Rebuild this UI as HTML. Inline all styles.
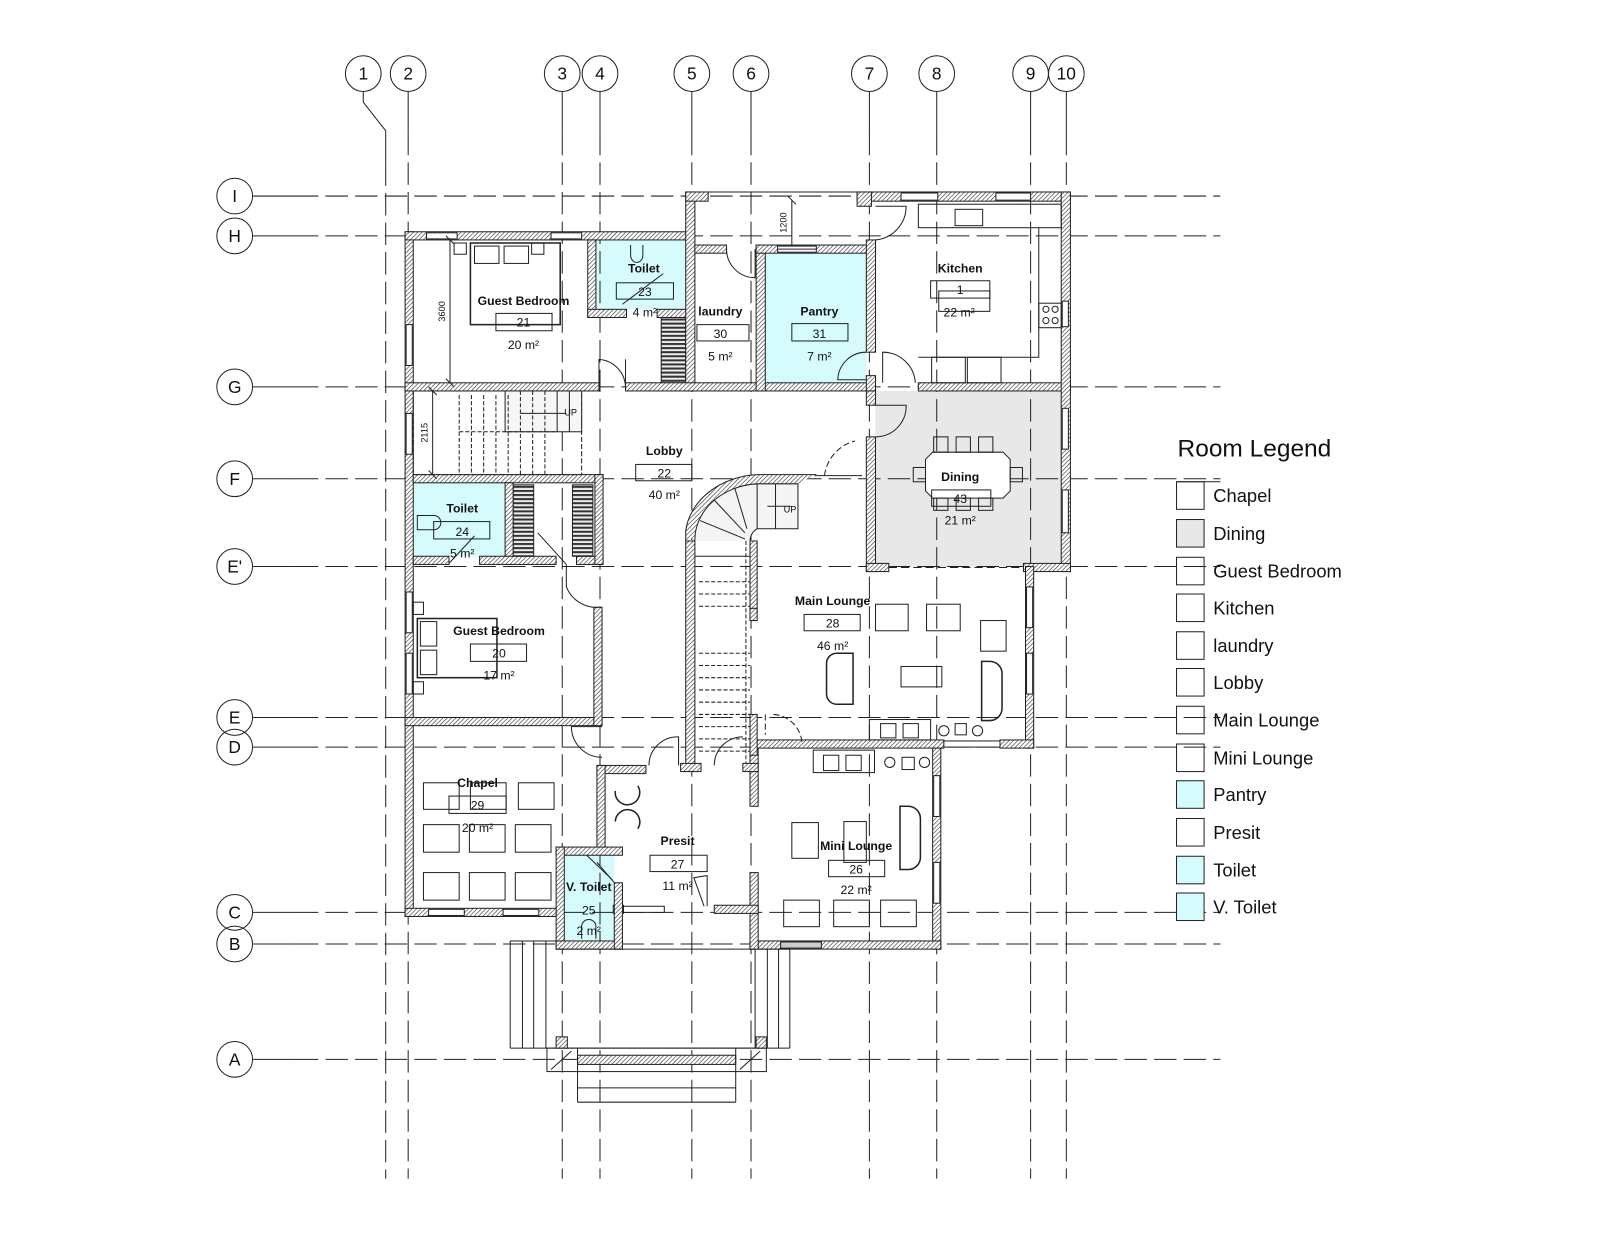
<!DOCTYPE html>
<html><head><meta charset="utf-8"><style>
html,body{margin:0;padding:0;background:#fff}
svg{display:block}
text{font-family:"Liberation Sans",sans-serif;fill:#111}
.g{stroke:#222;stroke-width:1;fill:none;stroke-dasharray:22 7}
.w{fill:url(#h);stroke:#222;stroke-width:1}
.l{stroke:#222;stroke-width:1;fill:none}
.f{stroke:#222;stroke-width:1;fill:#fff}
.lb{font-weight:bold;font-size:12px;text-anchor:middle}
.ar{font-size:12px;text-anchor:middle}
.bx{fill:none;stroke:#222;stroke-width:1}
.sh{fill:#333}
</style></head><body>
<svg width="1600" height="1236" viewBox="0 0 1568 1211" xmlns="http://www.w3.org/2000/svg">
<defs>
<pattern id="h" width="3" height="3" patternUnits="userSpaceOnUse" patternTransform="rotate(45)">
<rect width="3" height="3" fill="#fff"/><line x1="0" y1="0" x2="0" y2="3" stroke="#333" stroke-width="1.2"/>
</pattern>
<pattern id="st" width="4" height="4" patternUnits="userSpaceOnUse">
<rect width="4" height="4" fill="#eee"/><rect width="4" height="2" fill="#333"/>
</pattern>
</defs>

<!-- room fills -->
<rect x="584" y="235" width="88" height="68" fill="#d6fbfd"/>
<rect x="750" y="248" width="99" height="127" fill="#d6fbfd"/>
<rect x="405" y="473" width="90" height="72" fill="#d6fbfd"/>
<rect x="553" y="838" width="49" height="84" fill="#d6fbfd"/>
<rect x="858" y="383" width="182" height="172" fill="#e8e8e8"/>

<!-- grid verticals -->
<g>
<circle class="l" cx="356" cy="72" r="17.5"/><text x="356" y="78" font-size="17" text-anchor="middle">1</text>
<polyline class="l" points="356,90 356,100 378,128 378,160"/><line class="g" x1="378" y1="160" x2="378" y2="1155"/>
<circle class="l" cx="400" cy="72" r="17.5"/><text x="400" y="78" font-size="17" text-anchor="middle">2</text>
<circle class="l" cx="551" cy="72" r="17.5"/><text x="551" y="78" font-size="17" text-anchor="middle">3</text>
<circle class="l" cx="588" cy="72" r="17.5"/><text x="588" y="78" font-size="17" text-anchor="middle">4</text>
<circle class="l" cx="678" cy="72" r="17.5"/><text x="678" y="78" font-size="17" text-anchor="middle">5</text>
<circle class="l" cx="736" cy="72" r="17.5"/><text x="736" y="78" font-size="17" text-anchor="middle">6</text>
<circle class="l" cx="852" cy="72" r="17.5"/><text x="852" y="78" font-size="17" text-anchor="middle">7</text>
<circle class="l" cx="918" cy="72" r="17.5"/><text x="918" y="78" font-size="17" text-anchor="middle">8</text>
<circle class="l" cx="1010" cy="72" r="17.5"/><text x="1010" y="78" font-size="17" text-anchor="middle">9</text>
<circle class="l" cx="1045" cy="72" r="17.5"/><text x="1045" y="78" font-size="17" text-anchor="middle">10</text>
<line class="l" x1="400" y1="90" x2="400" y2="130"/><line class="g" x1="400" y1="130" x2="400" y2="1155"/>
<line class="l" x1="551" y1="90" x2="551" y2="130"/><line class="g" x1="551" y1="130" x2="551" y2="1155"/>
<line class="l" x1="588" y1="90" x2="588" y2="130"/><line class="g" x1="588" y1="130" x2="588" y2="1155"/>
<line class="l" x1="678" y1="90" x2="678" y2="130"/><line class="g" x1="678" y1="130" x2="678" y2="1155"/>
<line class="l" x1="736" y1="90" x2="736" y2="130"/><line class="g" x1="736" y1="130" x2="736" y2="1155"/>
<line class="l" x1="852" y1="90" x2="852" y2="130"/><line class="g" x1="852" y1="130" x2="852" y2="1155"/>
<line class="l" x1="918" y1="90" x2="918" y2="130"/><line class="g" x1="918" y1="130" x2="918" y2="1155"/>
<line class="l" x1="1010" y1="90" x2="1010" y2="130"/><line class="g" x1="1010" y1="130" x2="1010" y2="1155"/>
<line class="l" x1="1045" y1="90" x2="1045" y2="130"/><line class="g" x1="1045" y1="130" x2="1045" y2="1155"/>
</g>
<!-- grid horizontals -->
<g font-size="17">
<circle class="l" cx="230" cy="192" r="17.5"/><text x="230" y="198" text-anchor="middle">I</text><line class="l" x1="248" y1="192" x2="290" y2="192"/><line class="g" x1="290" y1="192" x2="1196" y2="192"/>
<circle class="l" cx="230" cy="231" r="17.5"/><text x="230" y="237" text-anchor="middle">H</text><line class="l" x1="248" y1="231" x2="290" y2="231"/><line class="g" x1="290" y1="231" x2="1196" y2="231"/>
<circle class="l" cx="230" cy="379" r="17.5"/><text x="230" y="385" text-anchor="middle">G</text><line class="l" x1="248" y1="379" x2="290" y2="379"/><line class="g" x1="290" y1="379" x2="1196" y2="379"/>
<circle class="l" cx="230" cy="469" r="17.5"/><text x="230" y="475" text-anchor="middle">F</text><line class="l" x1="248" y1="469" x2="290" y2="469"/><line class="g" x1="290" y1="469" x2="1196" y2="469"/>
<circle class="l" cx="230" cy="555" r="17.5"/><text x="230" y="561" text-anchor="middle">E'</text><line class="l" x1="248" y1="555" x2="290" y2="555"/><line class="g" x1="290" y1="555" x2="1196" y2="555"/>
<circle class="l" cx="230" cy="703" r="17.5"/><text x="230" y="709" text-anchor="middle">E</text><line class="l" x1="248" y1="703" x2="290" y2="703"/><line class="g" x1="290" y1="703" x2="1196" y2="703"/>
<circle class="l" cx="230" cy="732" r="17.5"/><text x="230" y="738" text-anchor="middle">D</text><line class="l" x1="248" y1="732" x2="290" y2="732"/><line class="g" x1="290" y1="732" x2="1196" y2="732"/>
<circle class="l" cx="230" cy="894" r="17.5"/><text x="230" y="900" text-anchor="middle">C</text><line class="l" x1="248" y1="894" x2="290" y2="894"/><line class="g" x1="290" y1="894" x2="1196" y2="894"/>
<circle class="l" cx="230" cy="925" r="17.5"/><text x="230" y="931" text-anchor="middle">B</text><line class="l" x1="248" y1="925" x2="290" y2="925"/><line class="g" x1="290" y1="925" x2="1196" y2="925"/>
<circle class="l" cx="230" cy="1038" r="17.5"/><text x="230" y="1044" text-anchor="middle">A</text><line class="l" x1="248" y1="1038" x2="290" y2="1038"/><line class="g" x1="290" y1="1038" x2="1196" y2="1038"/>
</g>

<!-- WALLS -->
<g>
<!-- west block -->
<rect class="w" x="397" y="227" width="8" height="671"/>
<rect class="w" x="397" y="227" width="283" height="8"/>
<rect class="w" x="576" y="235" width="8" height="76"/>
<rect class="w" x="576" y="303" width="38" height="8"/>
<rect class="w" x="644" y="303" width="30" height="8"/>
<rect x="648" y="311" width="24" height="64" fill="url(#st)" stroke="#222"/>
<rect class="w" x="672" y="188" width="9" height="195"/>
<rect class="w" x="672" y="188" width="22" height="9"/>
<line class="l" x1="694" y1="188" x2="848" y2="188"/>
<rect class="w" x="397" y="375" width="190" height="8"/>
<rect class="w" x="613" y="375" width="245" height="8"/>
<rect class="w" x="900" y="375" width="149" height="8"/>
<rect class="w" x="681" y="240" width="31" height="8"/>
<rect class="w" x="741" y="240" width="9" height="143"/>
<rect class="w" x="741" y="240" width="117" height="8"/>
<rect x="762" y="241" width="38" height="6" fill="#fff" stroke="#222"/><line class="l" x1="762" y1="244" x2="800" y2="244"/>
<rect class="w" x="849" y="235" width="9" height="110"/>
<rect class="w" x="849" y="368" width="9" height="15"/>
<rect class="w" x="840" y="188" width="209" height="9"/>
<rect class="w" x="840" y="188" width="14" height="14"/>
<rect x="883" y="189" width="36" height="7" fill="#fff" stroke="#222"/><rect x="976" y="189" width="34" height="7" fill="#fff" stroke="#222"/>
<rect class="w" x="1040" y="188" width="9" height="372"/>
<rect x="1041" y="400" width="6" height="40" fill="#fff" stroke="#222"/><rect x="1041" y="480" width="6" height="42" fill="#fff" stroke="#222"/>
<rect x="1041" y="295" width="6" height="25" fill="#fff" stroke="#222"/>
<!-- dining -->
<rect class="w" x="849" y="383" width="9" height="14"/>
<rect class="w" x="849" y="428" width="9" height="132"/>
<rect class="w" x="849" y="552" width="22" height="8"/>
<rect class="w" x="1003" y="552" width="46" height="8"/>
<line class="l" x1="871" y1="556" x2="1003" y2="556" stroke-dasharray="8 4"/>
<!-- main lounge -->
<rect class="w" x="1005" y="555" width="8" height="178"/>
<rect x="1006" y="575" width="6" height="40" fill="#fff" stroke="#222"/><rect x="1006" y="640" width="6" height="40" fill="#fff" stroke="#222"/>
<rect class="w" x="735" y="725" width="190" height="8"/>
<rect x="925" y="726" width="55" height="6" fill="#fff" stroke="#222"/>
<rect class="w" x="980" y="725" width="33" height="8"/>
<!-- mini lounge -->
<rect class="w" x="914" y="733" width="8" height="197"/>
<rect x="915" y="760" width="6" height="40" fill="#fff" stroke="#222"/><rect x="915" y="845" width="6" height="40" fill="#fff" stroke="#222"/>
<rect class="w" x="735" y="922" width="187" height="8"/>
<rect x="765" y="923" width="40" height="6" fill="#ccc" stroke="#222"/>
<rect class="w" x="735" y="733" width="8" height="57"/>
<rect class="w" x="735" y="855" width="8" height="75"/>
<!-- straight stair walls -->
<rect class="w" x="672" y="530" width="9" height="225"/>
<rect class="w" x="667" y="748" width="20" height="8"/>
<rect class="w" x="735" y="530" width="7" height="70"/>
<rect class="w" x="735" y="700" width="7" height="40"/>
<rect class="w" x="728" y="748" width="15" height="8"/>
<!-- presit -->
<rect class="w" x="585" y="750" width="48" height="8"/>
<rect class="w" x="585" y="750" width="8" height="84"/>
<rect class="w" x="601" y="887" width="10" height="8"/>
<rect x="611" y="888" width="40" height="6" fill="#fff" stroke="#222"/>
<rect class="w" x="700" y="887" width="43" height="8"/>
<!-- V toilet -->
<rect class="w" x="545" y="830" width="65" height="8"/>
<rect class="w" x="545" y="830" width="8" height="100"/>
<rect class="w" x="545" y="922" width="65" height="8"/>
<rect class="w" x="602" y="865" width="8" height="65"/>
<!-- chapel -->
<rect class="w" x="397" y="703" width="193" height="8"/>
<rect class="w" x="397" y="890" width="148" height="8"/>
<rect x="420" y="891" width="35" height="6" fill="#fff" stroke="#222"/><rect x="493" y="891" width="35" height="6" fill="#fff" stroke="#222"/>
<rect class="w" x="582" y="595" width="8" height="116"/>
<!-- toilet 24 and wardrobes -->
<rect class="w" x="405" y="465" width="186" height="8"/>
<rect class="w" x="495" y="473" width="8" height="80"/>
<rect class="w" x="405" y="545" width="35" height="8"/>
<rect class="w" x="470" y="545" width="75" height="8"/>
<rect class="w" x="565" y="545" width="26" height="8"/>
<rect class="w" x="583" y="465" width="8" height="88"/>
<rect x="503" y="475" width="20" height="70" fill="url(#st)" stroke="#222"/>
<rect x="561" y="475" width="20" height="70" fill="url(#st)" stroke="#222"/>
<!-- windows on left wall -->
<rect x="398" y="318" width="6" height="40" fill="#fff" stroke="#222"/>
<rect x="398" y="405" width="6" height="40" fill="#fff" stroke="#222"/>
<rect x="398" y="580" width="6" height="40" fill="#fff" stroke="#222"/>
<rect x="398" y="640" width="6" height="40" fill="#fff" stroke="#222"/>
<rect x="418" y="228" width="30" height="6" fill="#fff" stroke="#222"/><rect x="540" y="228" width="30" height="6" fill="#fff" stroke="#222"/>
</g>

<!-- doors -->
<g class="l">
<path d="M587 380 L587 352 A28 28 0 0 1 613 380"/><line x1="613" y1="352" x2="613" y2="380"/>
<path d="M712 244 A28 28 0 0 0 740 272 L740 244"/>
<path d="M849 345 A28 28 0 0 0 821 372 L849 372"/>
<path d="M865 375 L865 345 A32 32 0 0 1 897 375"/>
<path d="M858 397 L888 397 A30 30 0 0 1 858 428"/>
<path d="M858 202 L888 202 A33 33 0 0 1 858 235"/>
<path d="M808 466 A40 40 0 0 1 838 432" stroke-dasharray="6 3"/>
<line x1="798" y1="466" x2="845" y2="466"/>
<path d="M555 553 L555 575 A32 32 0 0 0 587 595"/>
<line x1="527" y1="522" x2="555" y2="553"/>
<path d="M590 712 L560 712 A30 30 0 0 0 590 742"/>
<path d="M636 750 A28 28 0 0 1 665 722 L665 750"/>
<path d="M700 750 A28 28 0 0 1 728 722"/>
<path d="M750 700 L750 720 M758 700 A30 30 0 0 1 786 728" stroke-dasharray="6 3"/>
<path d="M690 888 L680 860 L693 858 L693 888"/>
<line x1="585" y1="845" x2="603" y2="866"/>
<line x1="500" y1="395" x2="515" y2="420"/>
</g>

<!-- dimensions -->
<g class="l">
<line x1="441" y1="235" x2="441" y2="375"/><line x1="437" y1="231" x2="445" y2="239"/><line x1="437" y1="371" x2="445" y2="379"/>
<line x1="424" y1="383" x2="424" y2="465"/><line x1="420" y1="379" x2="428" y2="387"/><line x1="420" y1="461" x2="428" y2="469"/>
<line x1="776" y1="196" x2="776" y2="240"/><line x1="772" y1="192" x2="780" y2="200"/>
</g>
<text x="436" y="305" font-size="9" text-anchor="middle" transform="rotate(-90 436 305)">3600</text>
<text x="419" y="424" font-size="9" text-anchor="middle" transform="rotate(-90 419 424)">2115</text>
<text x="771" y="218" font-size="9" text-anchor="middle" transform="rotate(-90 771 218)">1200</text>

<!-- straight stair 1 -->
<g class="l">
<rect x="405" y="383" width="165" height="82" stroke-dasharray="5 2"/>
<rect x="495" y="383" width="75" height="40" fill="#f6f6f6"/>
<line x1="450" y1="423" x2="545" y2="423" stroke-dasharray="4 2"/>
<line x1="450" y1="387" x2="450" y2="465" stroke-dasharray="4 2"/><line x1="462" y1="387" x2="462" y2="465" stroke-dasharray="4 2"/>
<line x1="474" y1="387" x2="474" y2="465" stroke-dasharray="4 2"/><line x1="486" y1="387" x2="486" y2="465" stroke-dasharray="4 2"/>
<line x1="498" y1="387" x2="498" y2="465" stroke-dasharray="4 2"/><line x1="510" y1="383" x2="510" y2="465" stroke-dasharray="4 2"/>
<line x1="522" y1="383" x2="522" y2="465" stroke-dasharray="4 2"/><line x1="534" y1="383" x2="534" y2="465" stroke-dasharray="4 2"/>
<line x1="546" y1="383" x2="546" y2="423"/><line x1="558" y1="383" x2="558" y2="423"/>
<line x1="510" y1="405" x2="555" y2="405"/>
</g>
<text x="553" y="407" font-size="9">UP</text>

<!-- curved stair -->
<g class="l">
<path d="M672 530 L672 520 A75 62 0 0 1 742 465 L800 465" class="w"/>
<path d="M681 530 A65 55 0 0 1 742 474 L782 474 L782 518 L742 518 A15 15 0 0 0 735 530" fill="#f4f4f4"/>
<line x1="742" y1="474" x2="742" y2="518"/><line x1="760" y1="474" x2="760" y2="518"/>
<line x1="720" y1="478" x2="732" y2="518"/><line x1="700" y1="490" x2="730" y2="522"/>
<line x1="686" y1="510" x2="730" y2="528"/>
<line x1="752" y1="496" x2="775" y2="496"/>
<line x1="681" y1="545" x2="735" y2="545"/>
</g>
<text x="768" y="502" font-size="9">UP</text>
<!-- straight flight 2 -->
<g class="l" stroke-dasharray="4 2">
<line x1="685" y1="570" x2="735" y2="570"/><line x1="685" y1="582" x2="735" y2="582"/><line x1="685" y1="594" x2="735" y2="594"/>
<line x1="685" y1="640" x2="735" y2="640"/><line x1="685" y1="652" x2="735" y2="652"/><line x1="685" y1="664" x2="735" y2="664"/>
<line x1="685" y1="676" x2="735" y2="676"/><line x1="685" y1="688" x2="735" y2="688"/><line x1="685" y1="700" x2="735" y2="700"/>
<line x1="685" y1="712" x2="735" y2="712"/><line x1="685" y1="724" x2="735" y2="724"/><line x1="685" y1="736" x2="735" y2="736"/>
<line x1="731" y1="530" x2="731" y2="748"/>
</g>
<rect class="w" x="735" y="596" width="7" height="12"/>

<!-- furniture -->
<g class="l">
<!-- bedroom 21 bed -->
<rect x="461" y="238" width="88" height="80" stroke-width="1.5"/>
<rect x="465" y="241" width="24" height="17"/><rect x="494" y="241" width="24" height="17"/>
<rect x="445" y="238" width="12" height="11"/><rect x="521" y="238" width="12" height="11"/>
<!-- toilet 23 wc -->
<path d="M618 240 L618 250 A6 7 0 0 0 630 250 L630 240"/>
<line x1="610" y1="298" x2="650" y2="268"/>
<!-- kitchen -->
<rect x="900" y="200" width="140" height="23"/>
<rect x="936" y="205" width="27" height="16"/>
<polyline points="1018,223 1018,350 900,350"/>
<rect x="1018" y="297" width="22" height="24"/>
<circle cx="1025" cy="303" r="3"/><circle cx="1034" cy="303" r="3"/><circle cx="1025" cy="314" r="3"/><circle cx="1034" cy="314" r="3"/>
<rect x="920" y="285" width="50" height="20"/>
<rect x="913" y="350" width="33" height="25"/><rect x="948" y="350" width="33" height="25"/>
<!-- dining table -->
<path d="M914 443 L983 443 L990 450 L990 481 L983 488 L914 488 L907 481 L907 450 Z" fill="#fff"/>
<rect x="915" y="428" width="14" height="15"/><rect x="937" y="428" width="14" height="15"/><rect x="959" y="428" width="14" height="15"/>
<rect x="915" y="488" width="14" height="12"/><rect x="937" y="488" width="14" height="12"/><rect x="959" y="488" width="14" height="12"/>
<rect x="895" y="458" width="12" height="14"/><rect x="990" y="458" width="12" height="14"/>
<!-- toilet 24 -->
<path d="M409 505 L425 505 A7 7 0 0 1 425 519 L409 519 Z"/>
<line x1="440" y1="552" x2="465" y2="525"/>
<!-- bed 20 -->
<rect x="409" y="606" width="78" height="58" stroke-width="1.5"/>
<rect x="412" y="609" width="16" height="24"/><rect x="412" y="637" width="16" height="24"/>
<rect x="405" y="590" width="10" height="12"/><rect x="405" y="668" width="10" height="12"/>
<!-- main lounge -->
<rect x="858" y="592" width="32" height="26"/><rect x="908" y="592" width="33" height="26"/>
<rect x="961" y="608" width="25" height="30"/>
<rect x="883" y="653" width="40" height="20"/>
<path d="M826 640 L820 640 A10 10 0 0 0 810 650 L810 680 A10 10 0 0 0 820 690 L836 690 L836 640 Z" stroke-width="1.5"/>
<path d="M962 648 L970 648 A12 12 0 0 1 982 660 L982 694 A12 12 0 0 1 970 706 L962 706 Z" stroke-width="1.5"/>
<rect x="852" y="705" width="60" height="20"/><rect x="863" y="709" width="15" height="14"/><rect x="885" y="709" width="15" height="14"/>
<circle cx="925" cy="716" r="5"/><rect x="936" y="709" width="11" height="11"/><circle cx="958" cy="716" r="5"/>
<!-- mini lounge -->
<rect x="797" y="735" width="60" height="22"/><rect x="807" y="740" width="15" height="15"/><rect x="829" y="740" width="15" height="15"/>
<circle cx="872" cy="747" r="5"/><rect x="884" y="742" width="12" height="12"/><circle cx="906" cy="747" r="5"/>
<rect x="776" y="806" width="26" height="35"/>
<rect x="827" y="805" width="22" height="40"/>
<path d="M882 790 L890 790 A12 12 0 0 1 902 802 L902 840 A12 12 0 0 1 890 852 L882 852 Z" stroke-width="1.5"/>
<rect x="768" y="882" width="35" height="26"/><rect x="817" y="882" width="35" height="26"/><rect x="863" y="882" width="35" height="26"/>
<!-- presit chairs -->
<path d="M603 775 A12 12 0 1 0 625 770" stroke-width="1.5"/>
<path d="M603 805 A12 12 0 1 1 625 812" stroke-width="1.5"/>
<!-- chapel chairs -->
<rect x="415" y="767" width="35" height="26"/><rect x="461" y="767" width="35" height="26"/><rect x="508" y="767" width="35" height="26"/>
<rect x="415" y="808" width="35" height="27"/><rect x="460" y="808" width="35" height="27"/><rect x="505" y="808" width="35" height="27"/>
<rect x="415" y="855" width="35" height="27"/><rect x="460" y="855" width="35" height="27"/><rect x="505" y="855" width="35" height="27"/>
<!-- v toilet -->
<line x1="575" y1="838" x2="600" y2="862"/>
<path d="M570 920 L570 908 A7 7 0 0 1 584 908 L584 920"/>
</g>

<!-- porch -->
<g class="l">
<line x1="500" y1="922" x2="545" y2="922"/>
<line x1="500" y1="922" x2="500" y2="1027"/><line x1="512" y1="922" x2="512" y2="1027"/><line x1="523" y1="922" x2="523" y2="1027"/><line x1="535" y1="922" x2="535" y2="1027"/>
<line x1="743" y1="930" x2="774" y2="930"/>
<line x1="740" y1="930" x2="740" y2="1027"/><line x1="752" y1="930" x2="752" y2="1027"/><line x1="763" y1="930" x2="763" y2="1027"/><line x1="774" y1="930" x2="774" y2="1027"/>
<line x1="545" y1="930" x2="740" y2="930"/>
<line x1="500" y1="1027" x2="774" y2="1027"/>
<rect x="536" y="1027" width="215" height="23"/>
<rect class="w" x="566" y="1034" width="155" height="9"/>
<line x1="566" y1="1027" x2="566" y2="1080"/><line x1="721" y1="1027" x2="721" y2="1080"/>
<line x1="566" y1="1066" x2="721" y2="1066"/><line x1="566" y1="1080" x2="721" y2="1080"/>
<line x1="540" y1="1048" x2="560" y2="1030"/><line x1="725" y1="1048" x2="745" y2="1030"/>
</g>
<rect class="w" x="545" y="1016" width="11" height="11"/><rect class="w" x="741" y="1016" width="10" height="11"/>

<!-- labels -->
<g>
<text class="lb" x="513" y="299">Guest Bedroom</text><rect class="bx" x="486" y="307" width="55" height="17"/><text class="ar" x="513" y="320">21</text><text class="ar" x="513" y="342">20 m²</text>
<text class="lb" x="631" y="267">Toilet</text><rect class="bx" x="604" y="277" width="56" height="16"/><text class="ar" x="632" y="290">23</text><text class="ar" x="632" y="310">4 m²</text>
<text class="lb" x="706" y="309">laundry</text><rect class="bx" x="683" y="318" width="51" height="16"/><text class="ar" x="706" y="331">30</text><text class="ar" x="706" y="353">5 m²</text>
<text class="lb" x="803" y="309">Pantry</text><rect class="bx" x="776" y="317" width="55" height="17"/><text class="ar" x="803" y="331">31</text><text class="ar" x="803" y="353">7 m²</text>
<text class="lb" x="941" y="267">Kitchen</text><rect class="bx" x="912" y="275" width="58" height="17"/><text class="ar" x="941" y="288">1</text><text class="ar" x="940" y="310">22 m²</text>
<text class="lb" x="651" y="446">Lobby</text><rect class="bx" x="623" y="455" width="55" height="16"/><text class="ar" x="651" y="468">22</text><text class="ar" x="651" y="489">40 m²</text>
<text class="lb" x="941" y="471">Dining</text><rect class="bx" x="913" y="480" width="58" height="16"/><text class="ar" x="941" y="493">43</text><text class="ar" x="941" y="514">21 m²</text>
<text class="lb" x="453" y="502">Toilet</text><rect class="bx" x="425" y="511" width="55" height="17"/><text class="ar" x="453" y="525">24</text><text class="ar" x="453" y="546">5 m²</text>
<text class="lb" x="816" y="593">Main Lounge</text><rect class="bx" x="788" y="602" width="55" height="16"/><text class="ar" x="816" y="615">28</text><text class="ar" x="816" y="637">46 m²</text>
<text class="lb" x="489" y="622">Guest Bedroom</text><rect class="bx" x="461" y="631" width="55" height="17"/><text class="ar" x="489" y="644">20</text><text class="ar" x="489" y="666">17 m²</text>
<text class="lb" x="468" y="771">Chapel</text><rect class="bx" x="440" y="780" width="56" height="17"/><text class="ar" x="468" y="793">29</text><text class="ar" x="468" y="815">20 m²</text>
<text class="lb" x="664" y="828">Presit</text><rect class="bx" x="637" y="838" width="56" height="16"/><text class="ar" x="664" y="851">27</text><text class="ar" x="664" y="872">11 m²</text>
<text class="lb" x="839" y="833">Mini Lounge</text><rect class="bx" x="812" y="843" width="55" height="16"/><text class="ar" x="839" y="856">26</text><text class="ar" x="839" y="876">22 m²</text>
<text class="lb" x="577" y="873">V. Toilet</text><text class="ar" x="577" y="896">25</text><text class="ar" x="577" y="916">2 m²</text>
</g>

<!-- legend -->
<g font-size="18">
<text x="1154" y="447" font-size="24">Room Legend</text>
<line class="l" x1="1153" y1="472" x2="1196" y2="472"/>
<rect class="l" x="1153" y="472" width="27" height="27" fill="#fff"/><text x="1189" y="492">Chapel</text>
<rect class="l" x="1153" y="509" width="27" height="27" style="fill:#e8e8e8"/><text x="1189" y="529">Dining</text>
<rect class="l" x="1153" y="546" width="27" height="27"/><text x="1189" y="566">Guest Bedroom</text>
<rect class="l" x="1153" y="582" width="27" height="27"/><text x="1189" y="602">Kitchen</text>
<rect class="l" x="1153" y="619" width="27" height="27"/><text x="1189" y="639">laundry</text>
<rect class="l" x="1153" y="655" width="27" height="27"/><text x="1189" y="675">Lobby</text>
<rect class="l" x="1153" y="692" width="27" height="27"/><text x="1189" y="712">Main Lounge</text>
<rect class="l" x="1153" y="729" width="27" height="27"/><text x="1189" y="749">Mini Lounge</text>
<rect class="l" x="1153" y="765" width="27" height="27" style="fill:#d6fbfd"/><text x="1189" y="785">Pantry</text>
<rect class="l" x="1153" y="802" width="27" height="27"/><text x="1189" y="822">Presit</text>
<rect class="l" x="1153" y="839" width="27" height="27" style="fill:#d6fbfd"/><text x="1189" y="859">Toilet</text>
<rect class="l" x="1153" y="875" width="27" height="27" style="fill:#d6fbfd"/><text x="1189" y="895">V. Toilet</text>
</g>
</svg>
</body></html>
